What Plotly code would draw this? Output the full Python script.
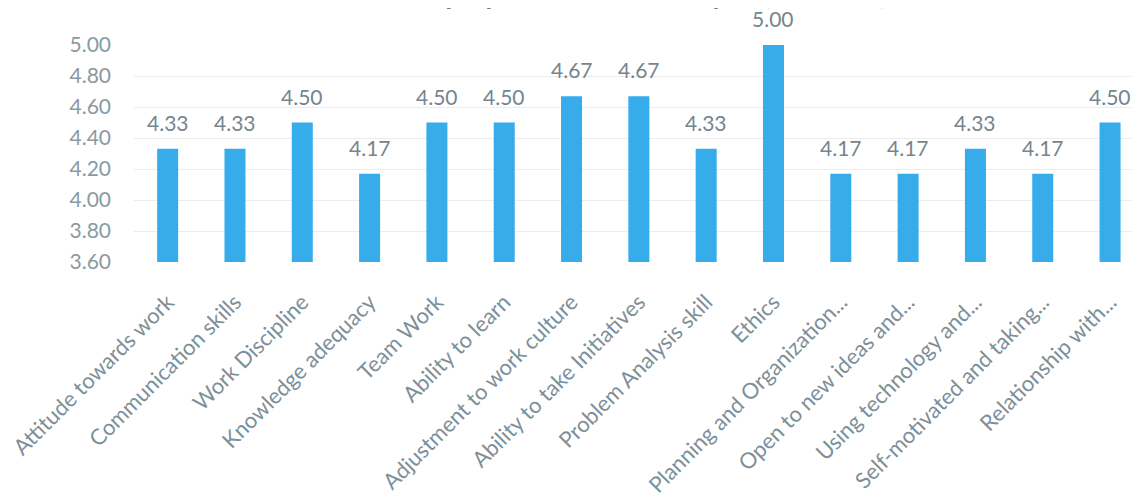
import plotly.graph_objects as go

categories = [
    "Attitude towards work", "Communication skills", "Work Discipline",
    "Knowledge adequacy", "Team Work", "Ability to learn",
    "Adjustment to work culture", "Ability to take Initiatives",
    "Problem Analysis skill", "Ethics", "Planning and Organization...",
    "Open to new ideas and...", "Using technology and...",
    "Self-motivated and taking...", "Relationship with...",
]
scores = [4.33, 4.33, 4.50, 4.17, 4.50, 4.50, 4.67, 4.67, 4.33, 5.00,
          4.17, 4.17, 4.33, 4.17, 4.50]
y_ticks = [3.60, 3.80, 4.00, 4.20, 4.40, 4.60, 4.80, 5.00]
base_value = 3.60
title_text = "Employer Feedback Analysis (2022-23)"

FONT = "Lato"
fig = go.Figure()
fig.add_trace(go.Bar(
    x=categories, y=[s - base_value for s in scores], base=base_value,
    marker=dict(color="#36ACEB", line=dict(width=0)),
    customdata=scores, hovertemplate="%{x}: %{customdata:.2f}<extra></extra>",
))

for c, s in zip(categories, scores):
    fig.add_annotation(x=c, y=s, text=f"{s:.2f}", showarrow=False,
                       yanchor="bottom", yshift=12,
                       font=dict(family=FONT, size=21, color="#76848e"))

fig.add_annotation(xref="paper", yref="paper", x=0.51, y=1.152,
                   xanchor="center", yanchor="bottom", showarrow=False,
                   text=f"<b>{title_text}</b>",
                   font=dict(family=FONT, size=28, color="#6b7b85"))

fig.update_layout(
    width=1131, height=491,
    margin=dict(l=126, r=0, t=37, b=237),
    paper_bgcolor="white", plot_bgcolor="white",
    bargap=0.688, showlegend=False,
    xaxis=dict(range=[-0.5, 14.43], tickangle=-45,
               tickfont=dict(family=FONT, size=22, color="#7d8f99"),
               showgrid=False, showline=False, zeroline=False,
               ticks="", ticklabelstandoff=22),
    yaxis=dict(range=[3.6, 5.0], tickvals=y_ticks, tickformat=".2f",
               tickfont=dict(family=FONT, size=21, color="#8a9aa3"),
               gridcolor="#ececec", gridwidth=1, zeroline=False,
               showline=False, ticks="", ticklabelstandoff=22),
)
fig.write_html("out.html")
